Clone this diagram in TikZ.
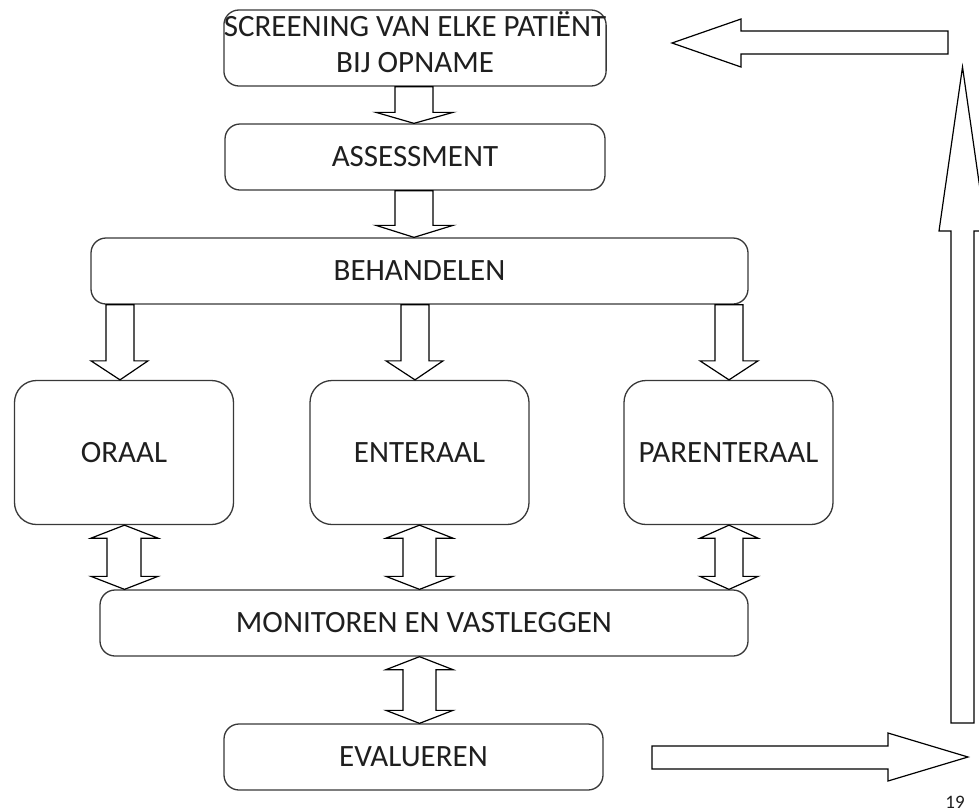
\documentclass[tikz,border=0pt]{standalone}
\usepackage{fontspec}
\setmainfont{Carlito}
\usetikzlibrary{calc}
\colorlet{boxline}{black!78}
\colorlet{txt}{black!88}
\tikzset{
  box/.style={draw=boxline, line width=0.65pt, rounded corners=7.5pt, inner sep=0pt, align=center,
    text=txt, font=\fontsize{15.5pt}{18pt}\selectfont},
  bigbox/.style={box, rounded corners=11pt},
  blk/.style={draw=black, line width=0.6pt, fill=white, line join=miter},
}
% down block arrow: from, to, shaft left, shaft right, head left, head right, tip x, head length
\newcommand\dnblk[8]{%
  \draw[blk] (#3,0 |- #1.south) -- ($(#3,0 |- #2.north)+(0,-#8)$) -- ($(#5,0 |- #2.north)+(0,-#8)$)
    -- (#7,0 |- #2.north) -- ($(#6,0 |- #2.north)+(0,-#8)$) -- ($(#4,0 |- #2.north)+(0,-#8)$)
    -- (#4,0 |- #1.south) -- cycle;}
% double block arrow: top node, bottom node, shaft left, shaft right, head left, head right, centre x, head length
\newcommand\dbblk[8]{%
  \draw[blk] (#7,0 |- #1.south) -- ($(#6,0 |- #1.south)+(0,#8)$) -- ($(#4,0 |- #1.south)+(0,#8)$)
    -- ($(#4,0 |- #2.north)+(0,-#8)$) -- ($(#6,0 |- #2.north)+(0,-#8)$) -- (#7,0 |- #2.north)
    -- ($(#5,0 |- #2.north)+(0,-#8)$) -- ($(#3,0 |- #2.north)+(0,-#8)$)
    -- ($(#3,0 |- #1.south)+(0,#8)$) -- ($(#5,0 |- #1.south)+(0,#8)$) -- cycle;}
\begin{document}
\begin{tikzpicture}[x=0.5pt, y=-0.5pt]
\useasboundingbox (0,0) rectangle (979,810);
\fill[white] (0,0) rectangle (979,810);
\clip (0,0) rectangle (979,810);

% boxes
\node[box, minimum width=190pt, minimum height=38pt] (scr) at (415,48)
  {SCREENING VAN ELKE PATIËNT\\BIJ OPNAME\rule[-5.5pt]{0pt}{0pt}};
\node[box, minimum width=190pt, minimum height=33pt] (ass) at (415,157) {ASSESSMENT};
\node[box, minimum width=328.5pt, minimum height=33pt] (beh) at (419.5,271) {BEHANDELEN};
\node[bigbox, minimum width=109.5pt, minimum height=72pt] (ora) at (124,452.5) {ORAAL};
\node[bigbox, minimum width=109.5pt, minimum height=72pt] (ent) at (419.5,452.5) {ENTERAAL};
\node[bigbox, minimum width=104.5pt, minimum height=72pt] (par) at (728.5,452.5) {PARENTERAAL};
\node[box, minimum width=324pt, minimum height=33pt] (mon) at (424,623) {MONITOREN EN VASTLEGGEN};
\node[box, minimum width=189.5pt, minimum height=33pt] (eva) at (413.5,757) {EVALUEREN};

% down arrows
\dnblk{scr}{ass}{395}{433}{376}{453}{414}{11}
\dnblk{ass}{beh}{395}{433}{376}{453}{414}{12}
\dnblk{beh}{ora}{106}{134}{91}{148}{120}{19}
\dnblk{beh}{ent}{401}{429}{386}{443}{415}{19}
\dnblk{beh}{par}{715}{743}{700}{758}{729}{19}

% double arrows
\dbblk{ora}{mon}{107}{141}{91}{158}{124.5}{13}
\dbblk{ent}{mon}{403}{436}{386}{453}{419.5}{13}
\dbblk{par}{mon}{715}{743}{700}{758}{729}{13}
\dbblk{mon}{eva}{403}{436}{386}{453}{419.5}{13}

% feedback arrows
\draw[blk] (948,31) -- (741,31) -- (741,19) -- (672,43) -- (741,67) -- (741,54) -- (948,54) -- cycle;
\draw[blk] (951,723) -- (951,231) -- (939,231) -- (962.5,67) -- (986,231) -- (974,231) -- (974,723) -- cycle;
\draw[blk] (652,746) -- (888,746) -- (888,733) -- (968,757) -- (888,781) -- (888,769) -- (652,769) -- cycle;

% page number
\node[text=txt, font=\fontsize{9.5pt}{11pt}\selectfont, inner sep=0pt] (pg) at (955,802) {19};
\end{tikzpicture}
\end{document}
